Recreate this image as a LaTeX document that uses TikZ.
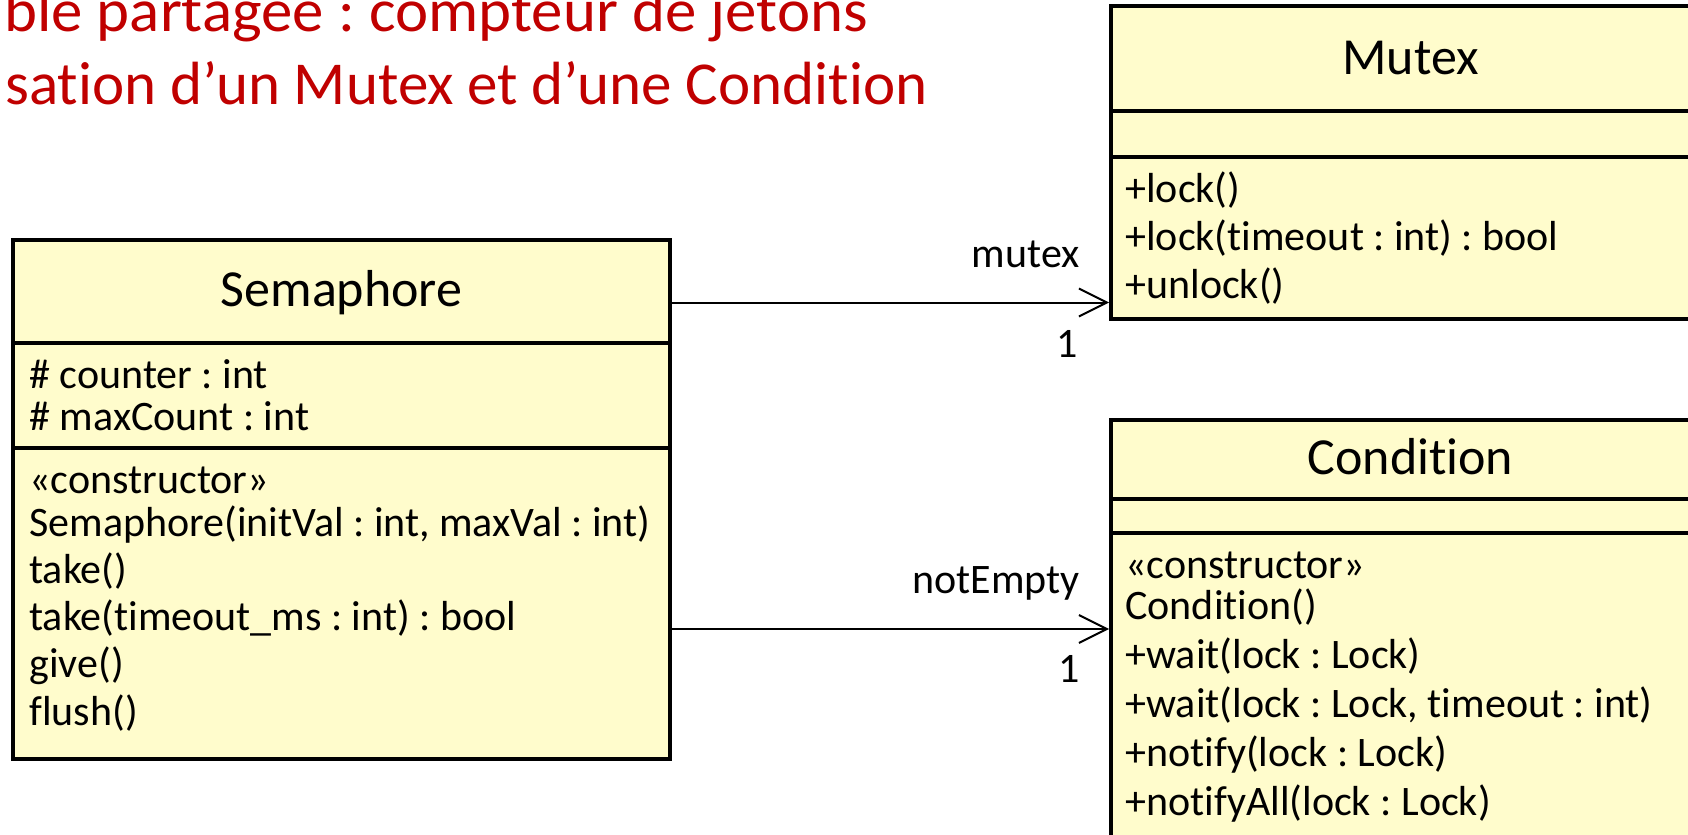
\documentclass[tikz,border=0pt]{standalone}
\usepackage{fontspec}
\setmainfont{Carlito}[Ligatures=NoCommon]
\newfontfamily\titlefont{Carlito}[Ligatures=NoCommon]
\newfontfamily\titlewidefont{Carlito}[Ligatures=NoCommon, FakeStretch=1.03]
\usetikzlibrary{arrows.meta,fit}
\definecolor{classfill}{HTML}{FFFCCC}
\definecolor{titlered}{HTML}{C00000}
\tikzset{
  umlbox/.style={draw=black, line width=1.8pt, fill=classfill, inner sep=0pt},
  divider/.style={draw=black, line width=1.6pt},
  classname/.style={anchor=base, inner sep=0pt, font=\fontsize{26}{30}\selectfont},
  member/.style={anchor=base west, inner sep=0pt, font=\fontsize{21}{24}\selectfont},
  rolelabel/.style={anchor=base east, inner sep=0pt, font=\fontsize{21}{24}\selectfont},
  assoc/.style={draw=black, line width=1pt, -{Straight Barb[length=14pt, width=14pt, line width=1pt]}},
  titletext/.style={anchor=base east, inner sep=0pt, text=titlered, font=\titlefont\fontsize{30.5}{36}\selectfont}
}
\begin{document}
\frenchspacing
\begin{tikzpicture}[x=0.5pt, y=-0.5pt]
  \useasboundingbox (0,0) rectangle (1688,835);
  \clip (0,0) rectangle (1688,835);

  % slide title (partly outside the frame)
  \node[titletext, font=\titlewidefont\fontsize{30.5}{36}\selectfont] (title1) at (868,32) {ble partagée : compteur de jetons};
  \node[titletext] (title2) at (928,104) {sation d’un Mutex et d’une Condition};

  % Semaphore class
  \node[umlbox, fit={(13,240) (670,759)}] (sem) {};
  \draw[divider] (sem.west |- 0,343) -- (sem.east |- 0,343);
  \draw[divider] (sem.west |- 0,448) -- (sem.east |- 0,448);
  \node[classname] (semName) at (341.5,306) {Semaphore};
  \node[member] (semA1) at (29,388) {\# counter : int};
  \node[member] (semA2) at (29,430) {\# maxCount : int};
  \node[member] (semM1) at (29,493) {«constructor»};
  \node[member] (semM2) at (29,536) {Semaphore(initVal : int, maxVal : int)};
  \node[member] (semM3) at (29,583) {take()};
  \node[member] (semM4) at (29,630) {take(timeout\_ms : int) : bool};
  \node[member] (semM5) at (29,677) {give()};
  \node[member] (semM6) at (29,725) {flush()};

  % Mutex class
  \node[umlbox, fit={(1111,6) (1710,319)}] (mutex) {};
  \draw[divider] (mutex.west |- 0,111) -- (mutex.east |- 0,111);
  \draw[divider] (mutex.west |- 0,157) -- (mutex.east |- 0,157);
  \node[classname] (mutexName) at (1410.5,75) {Mutex};
  \node[member] (mutexM1) at (1125,202) {+lock()};
  \node[member] (mutexM2) at (1125,250) {+lock(timeout : int) : bool};
  \node[member] (mutexM3) at (1125,298) {+unlock()};

  % Condition class
  \node[umlbox, fit={(1111,420) (1710,870)}] (cond) {};
  \draw[divider] (cond.west |- 0,499) -- (cond.east |- 0,499);
  \draw[divider] (cond.west |- 0,533) -- (cond.east |- 0,533);
  \node[classname] (condName) at (1410.5,474) {Condition};
  \node[member] (condM1) at (1125,578) {«constructor»};
  \node[member] (condM2) at (1125,619) {Condition()};
  \node[member] (condM3) at (1125,668) {+wait(lock : Lock)};
  \node[member] (condM4) at (1125,717) {+wait(lock : Lock, timeout : int)};
  \node[member] (condM5) at (1125,766) {+notify(lock : Lock)};
  \node[member] (condM6) at (1125,815) {+notifyAll(lock : Lock)};

  % associations
  \draw[assoc] (sem.east |- 0,302.5) -- (mutex.west |- 0,302.5);
  \node[rolelabel] (roleMutex) at (1080,267) {mutex};
  \node[rolelabel] (multMutex) at (1078,357) {1};

  \draw[assoc] (sem.east |- 0,629) -- (cond.west |- 0,629);
  \node[rolelabel] (roleCond) at (1080,593) {notEmpty};
  \node[rolelabel] (multCond) at (1080,682) {1};
\end{tikzpicture}
\end{document}
